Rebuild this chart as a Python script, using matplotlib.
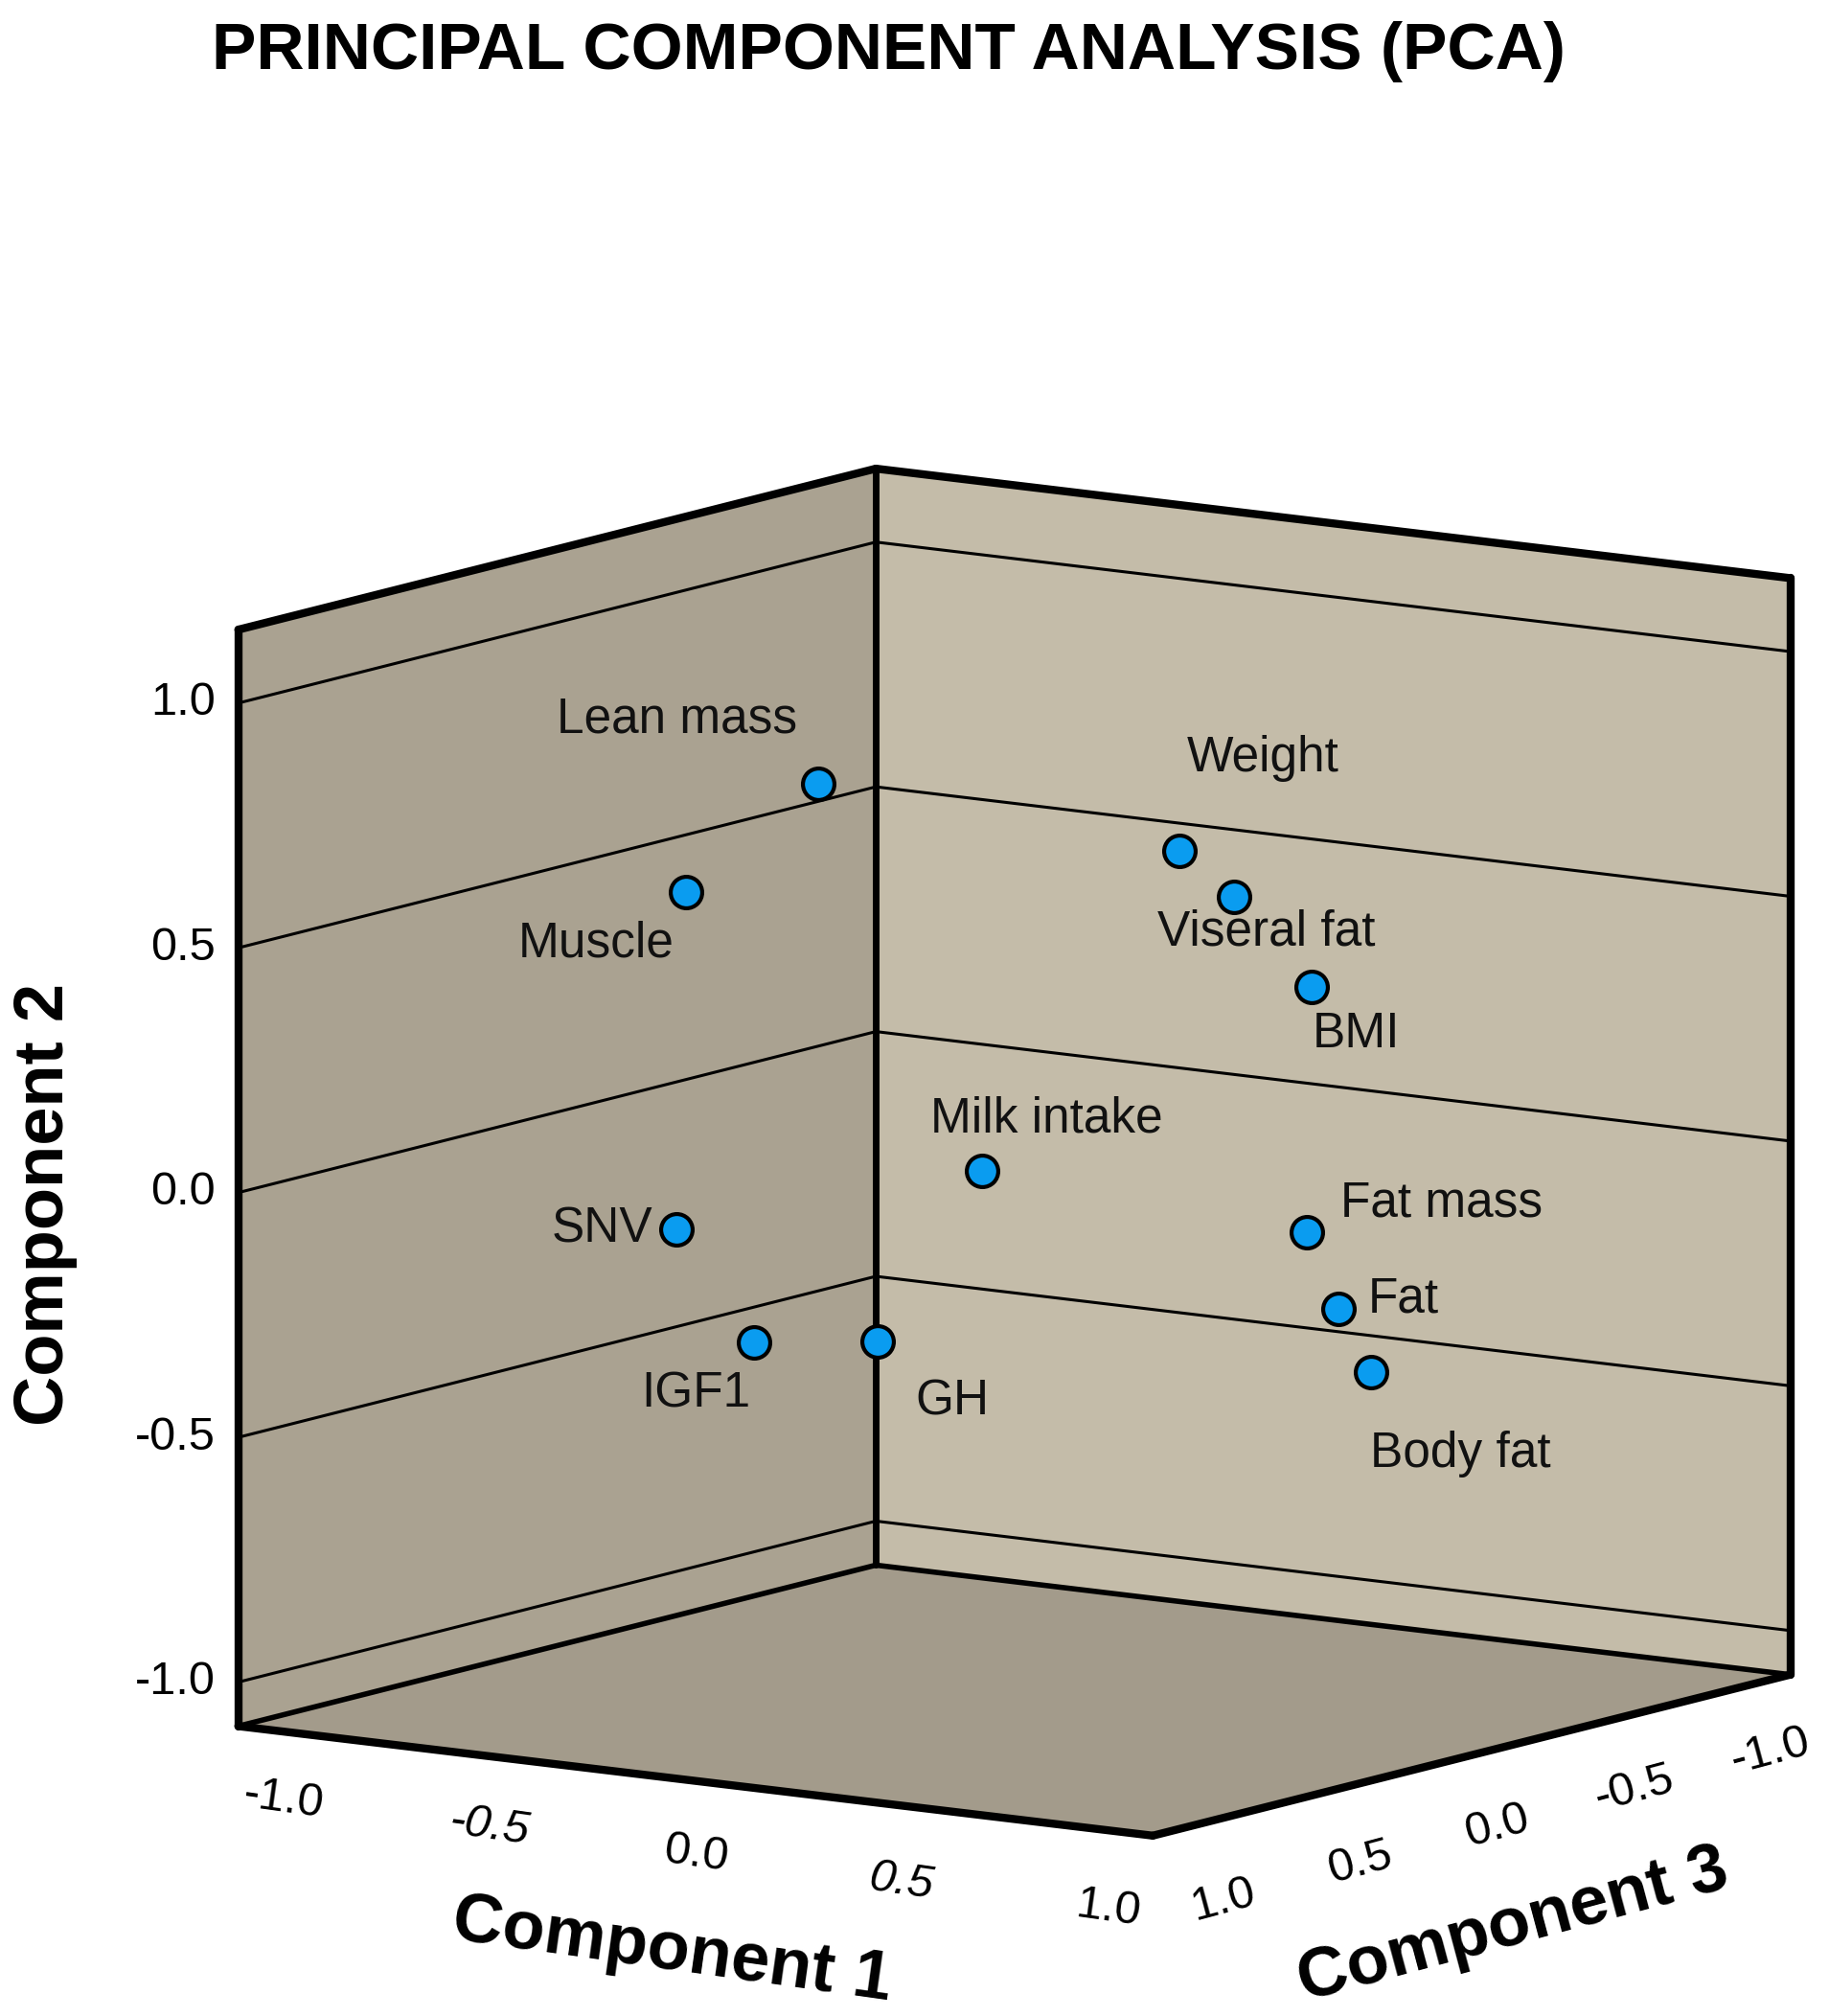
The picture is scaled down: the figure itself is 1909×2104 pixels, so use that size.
import matplotlib
matplotlib.use("Agg")
import matplotlib.pyplot as plt
import numpy as np

plt.rcParams['font.family'] = ['Liberation Sans', 'DejaVu Sans']

labels = ["Lean mass","Muscle","Weight","Viseral fat","BMI","Milk intake",
          "Fat mass","Fat","Body fat","SNV","IGF1","GH"]
comp1 = [-0.01,-0.23,0.43,0.55,0.65,-0.14,0.50,0.57,0.64,-0.39,-0.36,-0.30]
comp2 = [0.88,0.65,0.71,0.63,0.44,-0.04,-0.11,-0.26,-0.38,-0.09,-0.35,-0.39]
comp3 = [0.6,0.7,0.1,0.1,0.0,-0.1,-0.2,-0.2,-0.2,0.5,0.3,0.0]
label_off = [(-110,-50),(-70,40),(65,-72),(25,28),(35,37),(50,-40),
             (105,-22),(50,-8),(70,64),(-58,0),(-45,40),(58,47)]
ticks = [-1.0,-0.5,0.0,0.5,1.0]
tick_text = ["-1.0","-0.5","0.0","0.5","1.0"]
Y0, Y1 = -1.09, 1.15

def proj(c1, c2, c3):
    c1, c2, c3 = np.asarray(c1, float), np.asarray(c2, float), np.asarray(c3, float)
    x = 787.5 + 355*c1 - 247.5*c3
    y = 1320 - 380*(c2 - Y0) + 42.5*c1 + 62.5*c3
    return x, y

fig = plt.figure(figsize=(19.09, 21.04), dpi=100)
ax = fig.add_axes([0, 0, 1, 1])
ax.set_xlim(0, 1420); ax.set_ylim(1565, 0); ax.axis("off")

def poly(pts, color):
    xs, ys = proj(*np.array(pts).T)
    ax.fill(xs, ys, color=color, lw=0, zorder=1)

poly([(-1,Y0,-1),(-1,Y0,1),(-1,Y1,1),(-1,Y1,-1)], "#aaa291")
poly([(-1,Y0,-1),(1,Y0,-1),(1,Y1,-1),(-1,Y1,-1)], "#c4bca9")
poly([(-1,Y0,-1),(-1,Y0,1),(1,Y0,1),(1,Y0,-1)], "#a39b8b")

for t in ticks:
    xs, ys = proj([-1,-1,1], [t,t,t], [1,-1,-1])
    ax.plot(xs, ys, color="black", lw=2.2, zorder=2)

def seg(a, b, lw=6):
    xs, ys = proj(*np.array([a, b]).T)
    ax.plot(xs, ys, color="black", lw=lw, zorder=3, solid_capstyle="round")

seg((-1,Y0,-1),(-1,Y1,-1), 5)
seg((-1,Y0,1),(-1,Y1,1)); seg((-1,Y1,1),(-1,Y1,-1)); seg((-1,Y1,-1),(1,Y1,-1))
seg((1,Y1,-1),(1,Y0,-1)); seg((-1,Y0,1),(1,Y0,1)); seg((1,Y0,1),(1,Y0,-1))
seg((-1,Y0,-1),(-1,Y0,1), 4); seg((-1,Y0,-1),(1,Y0,-1), 4)

px, py = proj(comp1, comp2, comp3)
ax.scatter(px, py, s=560, color="#0a9cf0", edgecolor="black", linewidth=3, zorder=5)
for x, y, lab, (dx, dy) in zip(px, py, labels, label_off):
    ax.text(x+dx, y+dy, lab, fontsize=37, ha="center", va="center", color="#111111", zorder=6)

for t, s in zip(ticks, tick_text):
    x, y = proj(-1, t, 1)
    ax.text(x-18, y, s, fontsize=35, ha="right", va="center")
    x, y = proj(t, Y0, 1)
    ax.text(x - 35*t, y+57, s, fontsize=35, ha="center", va="center",
            style="italic" if s in ("-0.5","0.5") else "normal", rotation=-8)
    x, y = proj(1, Y0, t)
    ax.text(x + 20 + 35*t, y + 55 - 5*t, s, fontsize=35, ha="center", va="center", rotation=15)

ax.text(35, 935, "Component 2", fontsize=52, fontweight="bold", rotation=90, ha="center", va="center")
ax.text(522, 1515, "Component 1", fontsize=52, fontweight="bold", rotation=-8, ha="center", va="center")
ax.text(1175, 1495, "Component 3", fontsize=52, fontweight="bold", rotation=15, ha="center", va="center")
ax.text(690, 40, "PRINCIPAL COMPONENT ANALYSIS (PCA)", fontsize=50, fontweight="bold", ha="center", va="center")

fig.savefig("out.png", dpi=100, facecolor="white")
